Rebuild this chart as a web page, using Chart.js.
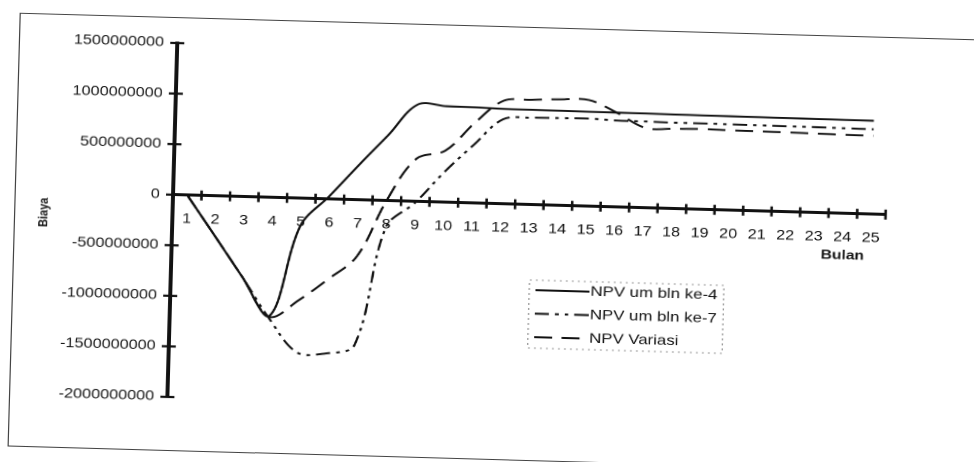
<!DOCTYPE html>
<html>
<head>
<meta charset="utf-8">
<script src="https://cdn.jsdelivr.net/npm/chart.js@4.4.1/dist/chart.umd.min.js"></script>
<style>
body { margin: 0; background: #fff; overflow: hidden; }
#view { position: absolute; left: 0; top: 0; width: 974px; height: 462px; overflow: hidden; background: #fff; }
/* the scan is a little tilted and stretched sideways */
#sheet { position: absolute; left: 23px; top: -5px; width: 1100px; height: 500px; transform-origin: 150px 200px; transform: rotate(1.6deg) scaleX(1.2); }
#frame { position: absolute; left: 18px; top: 22px; width: 1060px; height: 432px; border: 1.3px solid #444; }
#npv { position: absolute; left: 20px; top: 5px; }
</style>
</head>
<body>
<div id="view"><div id="sheet"><div id="frame"></div><canvas id="npv" width="820" height="462"></canvas></div></div>
<script>
const bulan = ["1", "2", "3", "4", "5", "6", "7", "8", "9", "10", "11", "12", "13",
	"14", "15", "16", "17", "18", "19", "20", "21", "22", "23", "24", "25"];

const npvKe4 = [0, -393e6, -790e6, -1170e6, -270e6, 34e6, 348e6, 652e6, 960e6, 950e6,
	947e6, 940e6, 938e6, 937e6, 935e6, 934e6, 933e6, 931e6, 930e6, 929e6,
	928e6, 927e6, 926e6, 925e6, 924e6];

const npvKe7 = [0, -393e6, -790e6, -1200e6, -1525e6, -1527e6, -1440e6, -260e6, -10e6, 302e6,
	577e6, 837e6, 860e6, 864e6, 868e6, 855e6, 854e6, 850e6, 851e6, 849e6,
	848e6, 846e6, 845e6, 842e6, 840e6];

const npvVariasi = [0, -393e6, -790e6, -1180e6, -1010e6, -796e6, -561e6, 5e6, 423e6, 510e6,
	790e6, 1020e6, 1037e6, 1050e6, 1050e6, 930e6, 790e6, 790e6, 795e6, 790e6,
	788e6, 785e6, 782e6, 778e6, 775e6];

const biayaTicks = [-2000000000, -1500000000, -1000000000, -500000000, 0,
	500000000, 1000000000, 1500000000];

const FONT = '"Liberation Sans", Arial, sans-serif';
const INK = "#111";

const axisDecor = {
	id: "axisDecor",
	afterDraw(chart) {
		const { ctx, chartArea, scales: { x, y } } = chart;
		const x0 = chartArea.left;
		const y0 = y.getPixelForValue(0);
		const seg = (a, b, c, d) => { ctx.beginPath(); ctx.moveTo(a, b); ctx.lineTo(c, d); ctx.stroke(); };
		ctx.save();
		ctx.strokeStyle = INK;
		ctx.lineWidth = 2.2;
		// tick marks crossing the axes
		y.ticks.forEach((t) => {
			const py = y.getPixelForValue(t.value);
			seg(x0 - 6, py, x0 + 6, py);
		});
		for (let i = 1; i <= bulan.length; i++) {
			const px = x.getPixelForValue(i - 0.5);
			seg(px, y0 - 5, px, y0 + 5);
		}

		// axis titles
		ctx.fillStyle = INK;
		ctx.textBaseline = "middle";
		ctx.font = "bold 13px " + FONT;
		ctx.textAlign = "right";
		ctx.fillText("Bulan", 707, 237);
		ctx.save();
		ctx.translate(23, 216);
		ctx.rotate(-Math.PI / 2);
		ctx.font = "bold 11px " + FONT;
		ctx.textAlign = "center";
		ctx.fillText("Biaya", 0, 0);
		ctx.restore();

		// legend
		const box = { left: 429, top: 270, width: 162, height: 68 };
		ctx.save();
		ctx.setLineDash([2, 3]);
		ctx.lineWidth = 1;
		ctx.strokeStyle = "#999";
		ctx.strokeRect(box.left, box.top, box.width, box.height);
		ctx.restore();
		ctx.font = "14px " + FONT;
		ctx.textAlign = "left";
		chart.data.datasets.forEach((ds, i) => {
			const ly = box.top + 10 + i * 23.5;
			ctx.save();
			ctx.lineWidth = ds.borderWidth;
			ctx.setLineDash(ds.borderDash || []);
			seg(box.left + 5, ly, box.left + (i === 2 ? 43 : 50), ly);
			ctx.restore();
			ctx.fillText(ds.label, box.left + 51, ly);
		});
		ctx.restore();
	},
};

const ctx = document.getElementById("npv").getContext("2d");
const npvChart = new Chart(ctx, {
	type: "line",
	data: {
		labels: bulan,
		datasets: [
			{
				label: "NPV um bln ke-4",
				data: npvKe4,
				borderColor: INK,
				borderWidth: 1.9,
			},
			{
				label: "NPV um bln ke-7",
				data: npvKe7,
				borderColor: INK,
				borderWidth: 1.9,
				borderDash: [12, 5, 3, 5, 3, 5],
			},
			{
				label: "NPV Variasi",
				data: npvVariasi,
				borderColor: INK,
				borderWidth: 1.9,
				borderDash: [15, 8],
			},
		],
	},
	options: {
		responsive: false,
		animation: false,
		devicePixelRatio: 2,
		layout: {
			padding: { left: 0, right: 96, top: 43, bottom: 65 },
		},
		elements: {
			point: { radius: 0 },
			line: { tension: 0.35, fill: false },
		},
		scales: {
			x: {
				type: "category",
				offset: true,
				position: { y: 0 },
				grid: { display: false, drawTicks: false },
				border: { display: true, color: INK, width: 3 },
				ticks: {
					color: INK,
					padding: 16,
					maxRotation: 0,
					autoSkip: false,
					font: { family: FONT, size: 13.5 },
				},
			},
			y: {
				min: -2000000000,
				max: 1500000000,
				afterBuildTicks: (s) => { s.ticks = biayaTicks.map((v) => ({ value: v })); },
				afterFit: (s) => { s.width = 130; },
				grid: { display: false, drawTicks: false },
				border: { display: true, color: INK, width: 3 },
				ticks: {
					color: INK,
					padding: 11,
					font: { family: FONT, size: 13.5 },
					callback: (v) => String(v),
				},
			},
		},
		plugins: {
			legend: { display: false },
			tooltip: { enabled: false },
		},
	},
	plugins: [axisDecor],
});
</script>
</body>
</html>
